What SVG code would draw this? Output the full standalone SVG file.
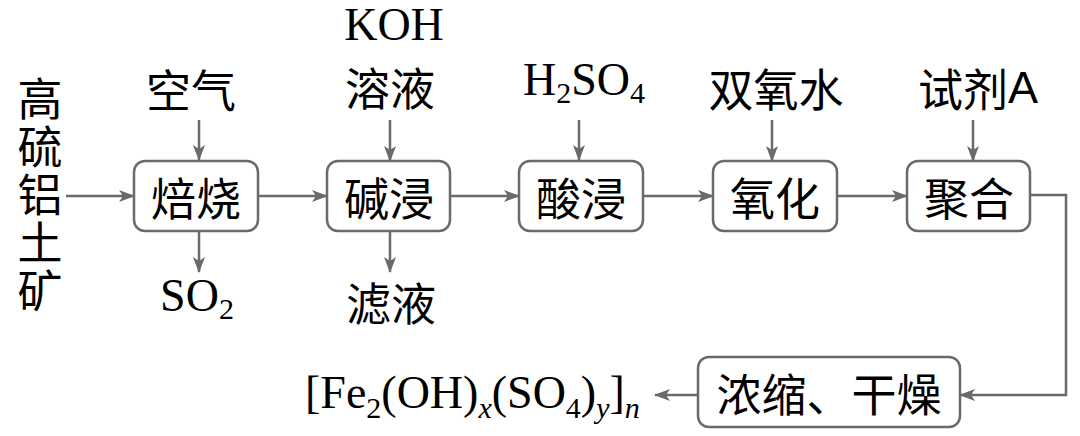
<svg xmlns="http://www.w3.org/2000/svg" width="1080" height="436" viewBox="0 0 1080 436">
<style>
.cjk{font-family:"Noto Sans CJK SC","Noto Sans",sans-serif;font-size:45px;fill:#000;text-anchor:middle;dominant-baseline:central}
.lat{font-family:"Liberation Serif","Times New Roman",serif;font-size:46px;fill:#000}
.box{fill:#fff;stroke:#6a6a6a;stroke-width:2.5}
.ln{fill:none;stroke:#6a6a6a;stroke-width:2.5}
.sub{font-size:30px}
.it{font-style:italic}
</style>
<defs>
<marker id="ah" markerWidth="16" markerHeight="12" refX="15" refY="6" orient="auto" markerUnits="userSpaceOnUse">
<path d="M0,0 L16,6 L0,12 L4,6 z" fill="#6a6a6a"/>
</marker>
</defs>
<rect width="1080" height="436" fill="#fff"/>
<g id="connectors">
<line class="ln" x1="66" y1="196" x2="134" y2="196" marker-end="url(#ah)"/>
<line class="ln" x1="199" y1="120" x2="199" y2="160" marker-end="url(#ah)"/>
<line class="ln" x1="199" y1="231" x2="199" y2="272" marker-end="url(#ah)"/>
<line class="ln" x1="258" y1="196" x2="327" y2="196" marker-end="url(#ah)"/>
<line class="ln" x1="390" y1="120" x2="390" y2="161" marker-end="url(#ah)"/>
<line class="ln" x1="390" y1="231" x2="390" y2="272" marker-end="url(#ah)"/>
<line class="ln" x1="450" y1="196" x2="519" y2="196" marker-end="url(#ah)"/>
<line class="ln" x1="579" y1="120" x2="579" y2="160" marker-end="url(#ah)"/>
<line class="ln" x1="643" y1="196" x2="713" y2="196" marker-end="url(#ah)"/>
<line class="ln" x1="772" y1="120" x2="772" y2="161" marker-end="url(#ah)"/>
<line class="ln" x1="837" y1="196" x2="907" y2="196" marker-end="url(#ah)"/>
<line class="ln" x1="973" y1="120" x2="973" y2="161" marker-end="url(#ah)"/>
<polyline class="ln" points="1030,195 1066,195 1066,395 960,395" marker-end="url(#ah)"/>
<line class="ln" x1="698" y1="395" x2="655" y2="395" marker-end="url(#ah)"/>
</g>
<g id="ore">
<text x="40" y="196" style="writing-mode:vertical-rl;font-family:'Noto Sans CJK SC','Noto Sans',sans-serif;font-size:45px;letter-spacing:3px;text-anchor:middle">高硫铝土矿</text>
</g>
<g id="air"><text class="cjk" x="191" y="88">空气</text></g>
<g id="roast"><rect class="box" x="134" y="161" width="124" height="70" rx="11"/><text class="cjk" x="196" y="196">焙烧</text></g>
<g id="so2"><text class="lat" x="197" y="311" text-anchor="middle">SO<tspan class="sub" dy="8">2</tspan></text></g>
<g id="koh"><text class="lat" x="394" y="40" text-anchor="middle">KOH</text><text class="cjk" x="390" y="86">溶液</text></g>
<g id="alkali"><rect class="box" x="327" y="161" width="123" height="70" rx="11"/><text class="cjk" x="389" y="196">碱浸</text></g>
<g id="filtrate"><text class="cjk" x="391" y="301">滤液</text></g>
<g id="h2so4"><text class="lat" x="584" y="95" text-anchor="middle">H<tspan class="sub" dy="8">2</tspan><tspan dy="-8">SO</tspan><tspan class="sub" dy="8">4</tspan></text></g>
<g id="acid"><rect class="box" x="519" y="161" width="124" height="70" rx="11"/><text class="cjk" x="581" y="196">酸浸</text></g>
<g id="h2o2"><text class="cjk" x="776" y="87">双氧水</text></g>
<g id="oxid"><rect class="box" x="713" y="161" width="124" height="70" rx="11"/><text class="cjk" x="775" y="196">氧化</text></g>
<g id="reagent"><text class="cjk" x="978" y="87">试剂<tspan style="font-family:'Liberation Sans',Arial,sans-serif">A</tspan></text></g>
<g id="poly"><rect class="box" x="907" y="161" width="123" height="70" rx="11"/><text class="cjk" x="969" y="196">聚合</text></g>
<g id="dry"><rect class="box" x="698" y="357" width="262" height="70" rx="11"/><text class="cjk" x="829" y="392">浓缩、干燥</text></g>
<g id="product"><text class="lat" x="305" y="408">[Fe<tspan class="sub" dy="10">2</tspan><tspan dy="-10">(OH)</tspan><tspan class="sub it" dy="10">x</tspan><tspan dy="-10">(SO</tspan><tspan class="sub" dy="10">4</tspan><tspan dy="-10">)</tspan><tspan class="sub it" dy="10">y</tspan><tspan dy="-10">]</tspan><tspan class="sub it" dy="10">n</tspan></text></g>
</svg>
